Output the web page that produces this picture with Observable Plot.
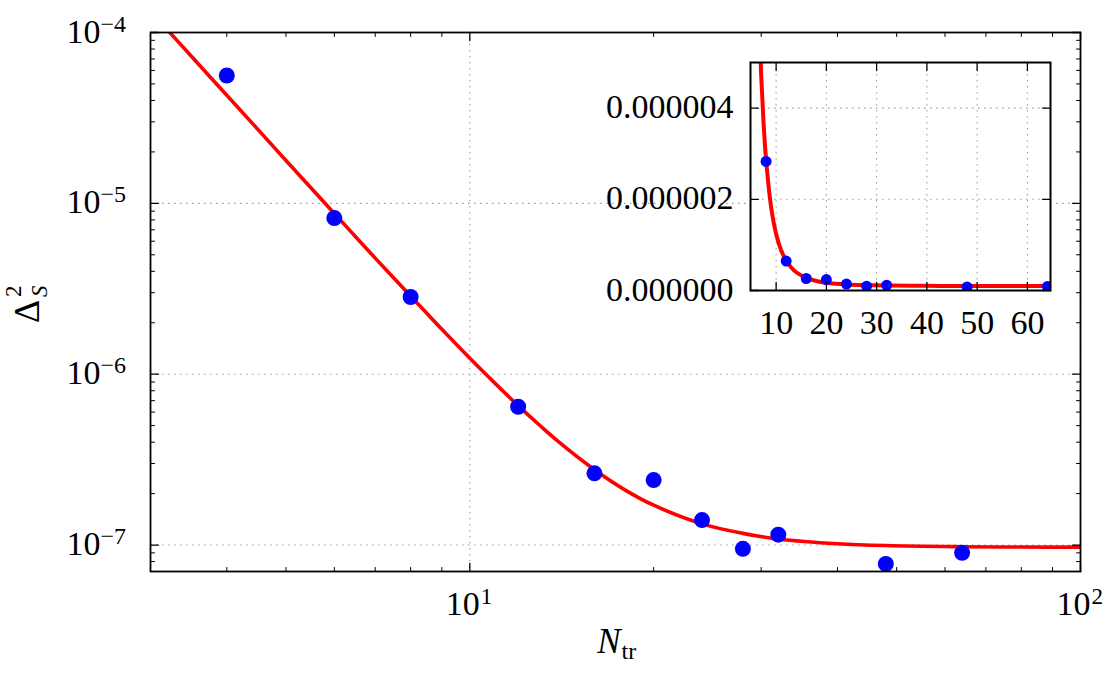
<!DOCTYPE html>
<html>
<head>
<meta charset="utf-8">
<script src="https://cdn.jsdelivr.net/npm/d3@7"></script>
<script src="https://cdn.jsdelivr.net/npm/@observablehq/plot@0.6"></script>
<style>
  body { margin: 0; background: #fff; }
  #chart { position: relative; width: 1119px; height: 681px; }
  #chart svg { position: absolute; max-width: none; }
</style>
</head>
<body>
<div id="chart"></div>
<script>
// Measured reconstruction error against the number of training samples
const nTrain  = [4, 6, 8, 12, 16, 20, 24, 28, 32, 48, 64];
const deltaS2 = [5.6e-5, 8.2e-6, 2.83e-6, 6.45e-7, 2.63e-7, 2.4e-7, 1.4e-7, 9.5e-8, 1.15e-7, 7.75e-8, 9.0e-8];

// Fitted trend curve (red), sampled at these N values
const fitN = [3.1, 3.5, 4, 4.5, 5, 6, 6.5, 7, 7.5, 8, 9, 10, 11, 12, 13, 14, 16, 18, 20, 24, 28, 32, 40, 48, 64, 80, 100];
const fitY = [1.17e-4, 7.26e-5, 4.29e-5, 2.70e-5, 1.78e-5, 8.72e-6, 6.38e-6, 4.78e-6, 3.67e-6, 2.87e-6, 1.83e-6, 1.24e-6,
              8.84e-7, 6.55e-7, 5.04e-7, 4.0e-7, 2.76e-7, 2.09e-7, 1.71e-7, 1.33e-7, 1.17e-7, 1.086e-7, 1.018e-7,
              9.93e-8, 9.78e-8, 9.73e-8, 9.72e-8];

// Main (log-log) axes ticks
const xMajor = [10, 100];
const xMajorExp = ["1", "2"];
const xMinor = [3, 4, 5, 6, 7, 8, 9, 20, 30, 40, 50, 60, 70, 80, 90];
const yMajor = [1e-7, 1e-6, 1e-5, 1e-4];
const yMajorExp = ["\u22127", "\u22126", "\u22125", "\u22124"];
const yMinor = [8e-8, 9e-8,
  2e-7, 3e-7, 4e-7, 5e-7, 6e-7, 7e-7, 8e-7, 9e-7,
  2e-6, 3e-6, 4e-6, 5e-6, 6e-6, 7e-6, 8e-6, 9e-6,
  2e-5, 3e-5, 4e-5, 5e-5, 6e-5, 7e-5, 8e-5, 9e-5];

// Inset (linear) axes ticks
const insetXTicks = [10, 20, 30, 40, 50, 60];
const insetXLabels = ["10", "20", "30", "40", "50", "60"];
const insetYTicks = [0, 2e-6, 4e-6];
const insetYLabels = ["0.000000", "0.000002", "0.000004"];

const points = nTrain.map((n, i) => ({n, v: deltaS2[i]}));
const fit = fitN.map((n, i) => ({n, v: fitY[i]}));

const FONT = "'Liberation Serif', 'DejaVu Serif', serif";
const GRID = {stroke: "#a0a0a0", strokeOpacity: 1, strokeWidth: 1.1, strokeDasharray: "1.6,4.4"};

// A plain tick segment drawn inward from the frame edge
const tickShape = {draw(ctx, l) { ctx.moveTo(0, 0); ctx.lineTo(0, -l); }};

function ticksX(values, len, sw) {
  return [
    Plot.vector(values, {x: d => d, frameAnchor: "bottom", rotate: 0, length: len, anchor: "start", shape: tickShape, stroke: "black", strokeWidth: sw}),
    Plot.vector(values, {x: d => d, frameAnchor: "top", rotate: 180, length: len, anchor: "start", shape: tickShape, stroke: "black", strokeWidth: sw})
  ];
}
function ticksY(values, len, sw) {
  return [
    Plot.vector(values, {y: d => d, frameAnchor: "left", rotate: 90, length: len, anchor: "start", shape: tickShape, stroke: "black", strokeWidth: sw}),
    Plot.vector(values, {y: d => d, frameAnchor: "right", rotate: -90, length: len, anchor: "start", shape: tickShape, stroke: "black", strokeWidth: sw})
  ];
}

const txt = {fontFamily: FONT, fill: "black", lineAnchor: "bottom"};

const main = Plot.plot({
  width: 1119,
  height: 681,
  marginLeft: 150,
  marginRight: 39,
  marginTop: 32,
  marginBottom: 110,
  style: {fontFamily: FONT, background: "white"},
  x: {type: "log", domain: [3, 100], axis: null},
  y: {type: "log", domain: [7e-8, 1e-4], axis: null},
  marks: [
    Plot.gridX(xMajor, GRID),
    Plot.gridY(yMajor, GRID),
    Plot.line(fit, {x: "n", y: "v", stroke: "#ff0000", strokeWidth: 3.6, curve: "catmull-rom", clip: true}),
    Plot.dot(points, {x: "n", y: "v", r: 8, fill: "#0000ff", stroke: null, clip: true}),
    Plot.frame({stroke: "black", strokeWidth: 1.8}),
    ...ticksX(xMajor, 8, 1.3),
    ...ticksX(xMinor, 4, 1),
    ...ticksY(yMajor, 8, 1.3),
    ...ticksY(yMinor, 4, 1),
    // x tick labels 10^k
    Plot.text(xMajor, {...txt, x: d => d, frameAnchor: "bottom", text: () => "10", textAnchor: "end", dx: 10, dy: 43, fontSize: 34}),
    Plot.text(xMajor, {...txt, x: d => d, frameAnchor: "bottom", text: (d, i) => xMajorExp[i], textAnchor: "start", dx: 11, dy: 32, fontSize: 23}),
    // y tick labels 10^k
    Plot.text(yMajor, {...txt, y: d => d, frameAnchor: "left", text: () => "10", textAnchor: "end", dx: -50, dy: 10, fontSize: 34}),
    Plot.text(yMajor, {...txt, y: d => d, frameAnchor: "left", text: (d, i) => yMajorExp[i], textAnchor: "start", dx: -50, dy: -1, fontSize: 24}),
    // axis titles
    Plot.text(["N"], {...txt, frameAnchor: "bottom", text: d => d, textAnchor: "end", dx: 5, dy: 81, fontSize: 35, fontStyle: "italic"}),
    Plot.text(["tr"], {...txt, frameAnchor: "bottom", text: d => d, textAnchor: "start", dx: 6, dy: 87, fontSize: 24}),
    Plot.text(["\u0394"], {...txt, frameAnchor: "left", text: d => d, rotate: -90, textAnchor: "start", dx: -112, dy: 21, fontSize: 36}),
    Plot.text(["2"], {...txt, frameAnchor: "left", text: d => d, rotate: -90, textAnchor: "start", dx: -130, dy: -5, fontSize: 23}),
    Plot.text(["S"], {...txt, frameAnchor: "left", text: d => d, rotate: -90, textAnchor: "start", dx: -104, dy: -5, fontSize: 23, fontStyle: "italic"})
  ]
});
main.style.left = "0px";
main.style.top = "0px";

const insetFit = fit.filter(d => d.n >= 6);

const inset = Plot.plot({
  width: 470,
  height: 290,
  marginLeft: 160,
  marginRight: 10,
  marginTop: 12,
  marginBottom: 50,
  style: {fontFamily: FONT, background: "transparent", overflow: "visible"},
  x: {domain: [4.9, 64.6], axis: null},
  y: {domain: [0, 5e-6], axis: null},
  marks: [
    Plot.frame({fill: "white", stroke: null}),
    Plot.gridX(insetXTicks, GRID),
    Plot.gridY(insetYTicks, GRID),
    Plot.line(insetFit, {x: "n", y: "v", stroke: "#ff0000", strokeWidth: 4, curve: "catmull-rom", clip: true}),
    Plot.dot(points, {x: "n", y: "v", r: 5.5, fill: "#0000ff", stroke: null, clip: true}),
    Plot.frame({stroke: "black", strokeWidth: 2}),
    ...ticksX(insetXTicks, 8, 1.3),
    ...ticksY(insetYTicks, 8, 1.3),
    Plot.text(insetXTicks, {...txt, x: d => d, frameAnchor: "bottom", text: (d, i) => insetXLabels[i], textAnchor: "middle", dy: 43, fontSize: 34}),
    Plot.text(insetYTicks, {...txt, y: d => d, frameAnchor: "left", text: (d, i) => insetYLabels[i], textAnchor: "end", dx: -17, dy: 10, fontSize: 34})
  ]
});
inset.style.left = "590px";
inset.style.top = "50px";

const chart = document.getElementById("chart");
chart.appendChild(main);
chart.appendChild(inset);
</script>
</body>
</html>
